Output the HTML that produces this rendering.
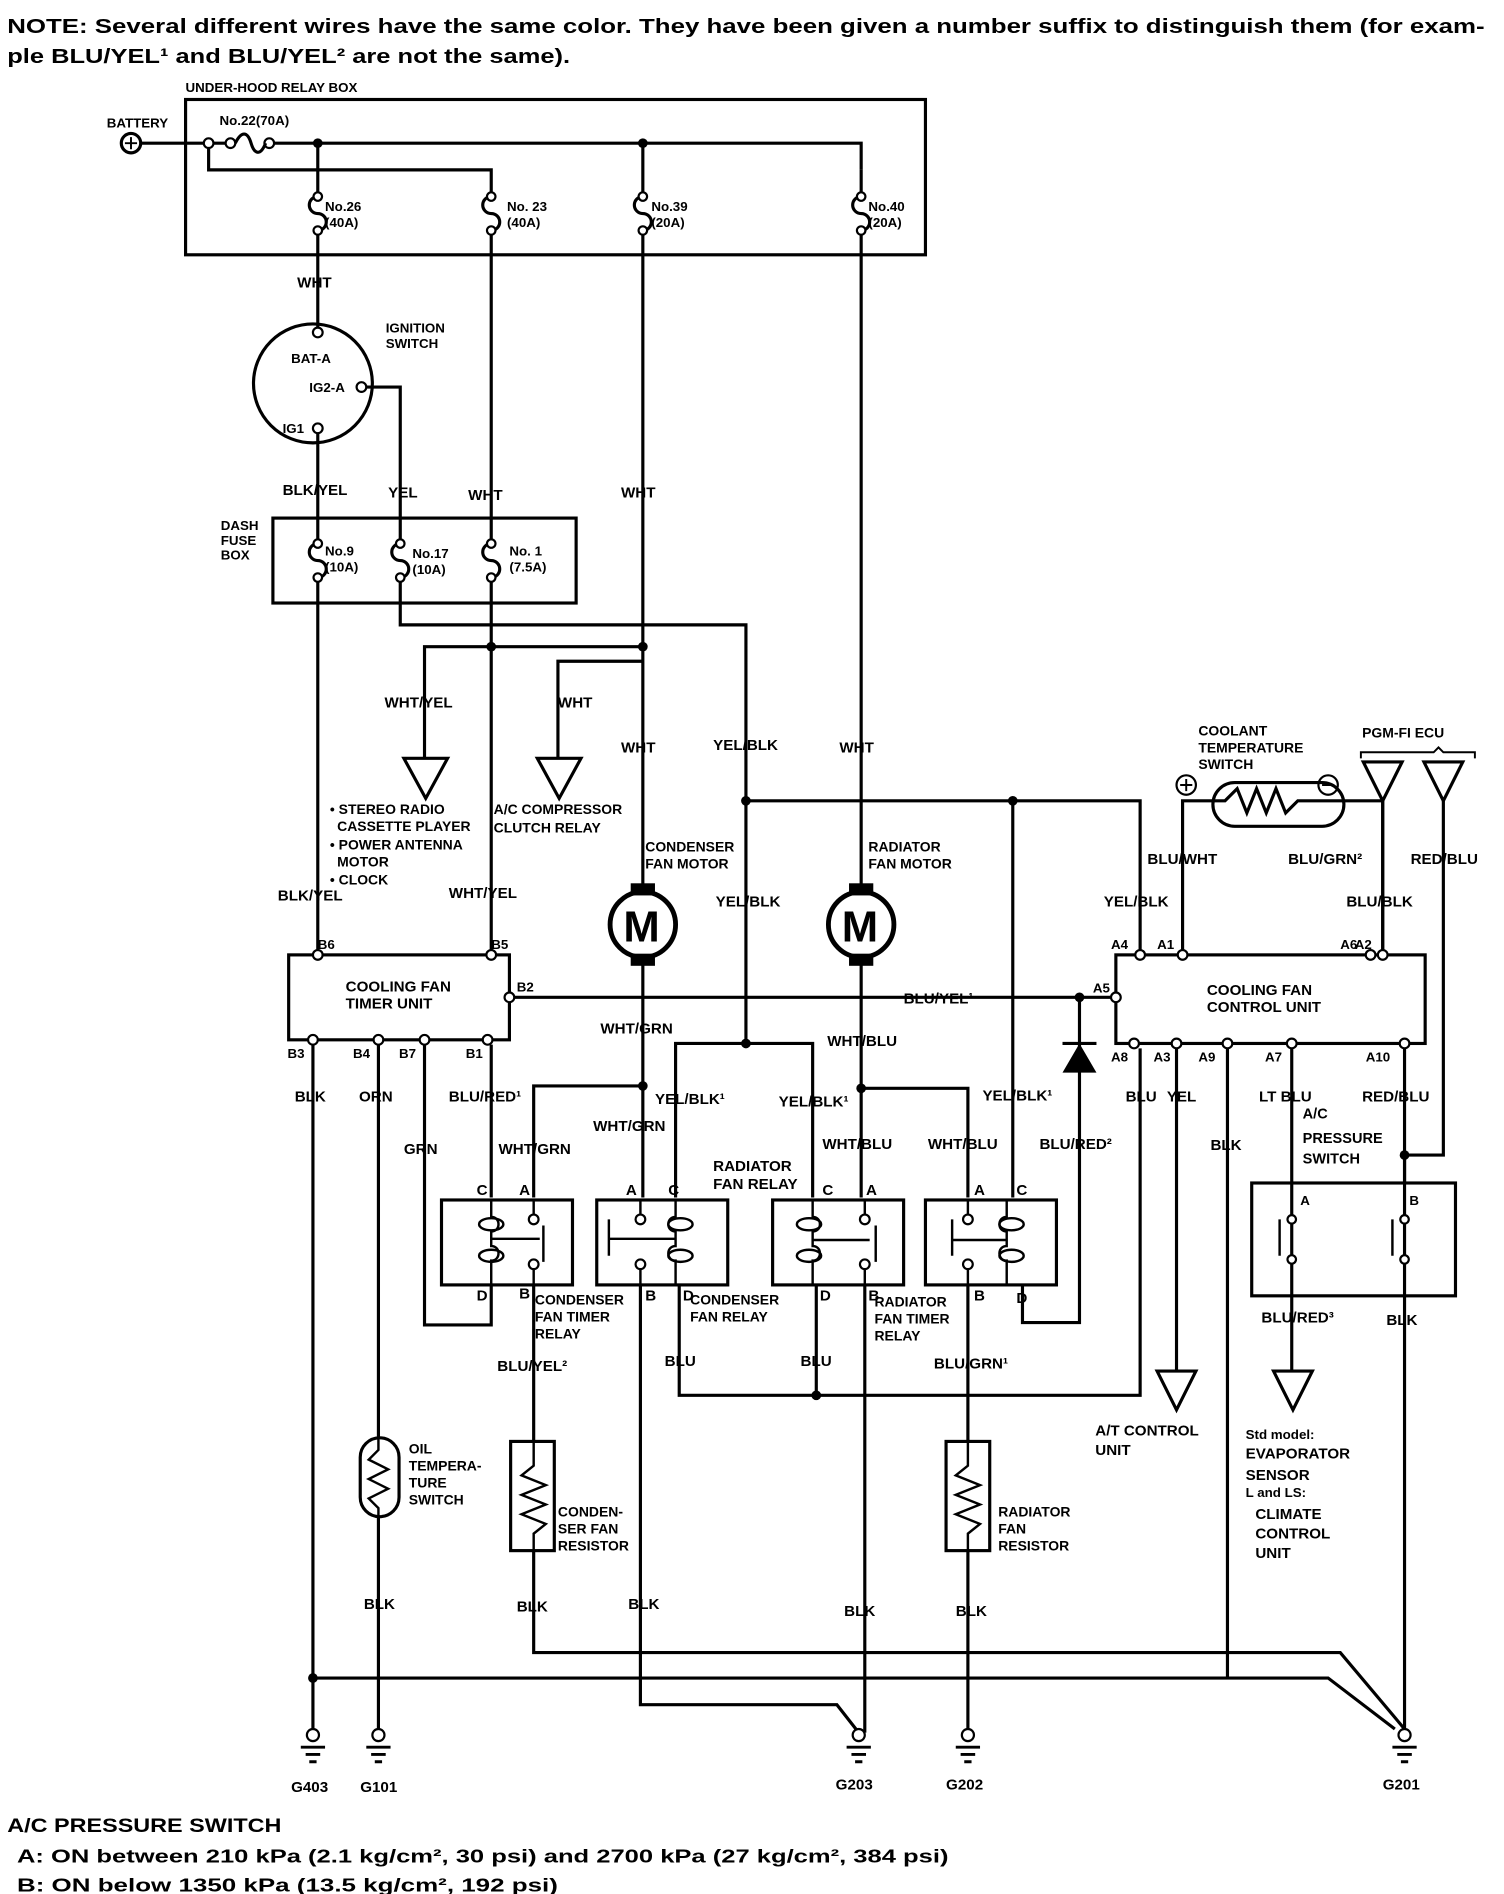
<!DOCTYPE html>
<html><head><meta charset="utf-8"><style>
html,body{margin:0;padding:0;background:#fff;}
svg{display:block}
text{font-family:"Liberation Sans",Arial,sans-serif;font-weight:bold;fill:#000;font-size:12.5px}
.w{fill:none;stroke:#000;stroke-width:2.6}
.t{fill:#fff;stroke:#000;stroke-width:1.8}
.d{fill:#000}
</style></head><body>
<svg width="1504" height="1894" viewBox="0 0 1240 1561" preserveAspectRatio="none" xmlns="http://www.w3.org/2000/svg">
<text x="6" y="27" style="font-size:17px" textLength="1218" lengthAdjust="spacingAndGlyphs">NOTE:  Several different wires have the same color. They have been given a number suffix to distinguish them (for exam-</text>
<text x="6" y="52" style="font-size:17px" textLength="464" lengthAdjust="spacingAndGlyphs">ple BLU/YEL¹ and BLU/YEL² are not the same).</text>

<text x="153" y="76" style="font-size:11px">UNDER-HOOD RELAY BOX</text>
<rect x="153" y="82" width="610" height="128" class="w"/>
<text x="88" y="105" style="font-size:11px">BATTERY</text>
<circle cx="108" cy="118" r="8" class="w"/><path d="M103 118h10M108 113v10" class="w" style="stroke-width:1.6"/>
<path d="M116 118H190M220 118H710v22M172 118v22H405v22M262 118v44M530 118v44" class="w"/>
<text x="181" y="103" style="font-size:11px">No.22(70A)</text>
<circle cx="172" cy="118" r="4" class="t"/><circle cx="190" cy="118" r="4" class="t"/><circle cx="222" cy="118" r="4" class="t"/>
<path d="M194 118c5-10 10-10 13 0s8 10 12 0" class="w"/>
<circle cx="262" cy="118" r="4" class="d"/><circle cx="530" cy="118" r="4" class="d"/>
<path d="M262 162a7 7 0 0 0 0 14a7 7 0 0 1 0 14M405 162a7 7 0 0 0 0 14a7 7 0 0 1 0 14M530 162a7 7 0 0 0 0 14a7 7 0 0 1 0 14M710 162a7 7 0 0 0 0 14a7 7 0 0 1 0 14" class="w"/>
<path d="M710 140v22" class="w"/>
<circle cx="262" cy="162" r="3.5" class="t"/><circle cx="262" cy="190" r="3.5" class="t"/>
<circle cx="405" cy="162" r="3.5" class="t"/><circle cx="405" cy="190" r="3.5" class="t"/>
<circle cx="530" cy="162" r="3.5" class="t"/><circle cx="530" cy="190" r="3.5" class="t"/>
<circle cx="710" cy="162" r="3.5" class="t"/><circle cx="710" cy="190" r="3.5" class="t"/>
<text x="268" y="174" style="font-size:11px">No.26</text><text x="268" y="187" style="font-size:11px">(40A)</text>
<text x="418" y="174" style="font-size:11px">No. 23</text><text x="418" y="187" style="font-size:11px">(40A)</text>
<text x="537" y="174" style="font-size:11px">No.39</text><text x="537" y="187" style="font-size:11px">(20A)</text>
<text x="716" y="174" style="font-size:11px">No.40</text><text x="716" y="187" style="font-size:11px">(20A)</text>

<path d="M262 194V270" class="w"/>
<text x="245" y="237">WHT</text>
<circle cx="258" cy="316" r="49" class="w"/>
<circle cx="262" cy="274" r="4" class="t"/>
<text x="240" y="299" style="font-size:11px">BAT-A</text>
<text x="255" y="323" style="font-size:11px">IG2-A</text>
<circle cx="298" cy="319" r="4" class="t"/>
<text x="233" y="357" style="font-size:11px">IG1</text>
<circle cx="262" cy="353" r="4" class="t"/>
<text x="318" y="274" style="font-size:11px">IGNITION</text><text x="318" y="287" style="font-size:11px">SWITCH</text>
<path d="M302 319H330V445M262 357V445M405 194V445M530 194V735M710 194V735" class="w"/>
<text x="233" y="408">BLK/YEL</text><text x="320" y="410">YEL</text><text x="386" y="412">WHT</text><text x="512" y="410">WHT</text>

<rect x="225" y="427" width="250" height="70" class="w"/>
<text x="182" y="437" style="font-size:11px">DASH</text><text x="182" y="449" style="font-size:11px">FUSE</text><text x="182" y="461" style="font-size:11px">BOX</text>
<path d="M262 448a7 7 0 0 0 0 14a7 7 0 0 1 0 14M330 448a7 7 0 0 0 0 14a7 7 0 0 1 0 14M405 448a7 7 0 0 0 0 14a7 7 0 0 1 0 14" class="w"/>
<circle cx="262" cy="448" r="3.5" class="t"/><circle cx="262" cy="476" r="3.5" class="t"/>
<circle cx="330" cy="448" r="3.5" class="t"/><circle cx="330" cy="476" r="3.5" class="t"/>
<circle cx="405" cy="448" r="3.5" class="t"/><circle cx="405" cy="476" r="3.5" class="t"/>
<text x="268" y="458" style="font-size:11px">No.9</text><text x="268" y="471" style="font-size:11px">(10A)</text>
<text x="340" y="460" style="font-size:11px">No.17</text><text x="340" y="473" style="font-size:11px">(10A)</text>
<text x="420" y="458" style="font-size:11px">No. 1</text><text x="420" y="471" style="font-size:11px">(7.5A)</text>

<path d="M262 480V785M330 480V515H615V860M405 480V785M350 625V533H530M460 625V545H530" class="w"/>
<circle cx="405" cy="533" r="4" class="d"/><circle cx="530" cy="533" r="4" class="d"/>
<path d="M333 625h36l-18 33z M443 625h36l-18 33z" class="w"/>
<text x="317" y="583">WHT/YEL</text><text x="460" y="583">WHT</text>
<text x="512" y="620">WHT</text><text x="588" y="618">YEL/BLK</text><text x="692" y="620">WHT</text>
<text x="272" y="671" style="font-size:11.5px">• STEREO RADIO</text>
<text x="278" y="685" style="font-size:11.5px">CASSETTE PLAYER</text>
<text x="272" y="700" style="font-size:11.5px">• POWER ANTENNA</text>
<text x="278" y="714" style="font-size:11.5px">MOTOR</text>
<text x="272" y="729" style="font-size:11.5px">• CLOCK</text>
<text x="407" y="671" style="font-size:11.5px">A/C COMPRESSOR</text>
<text x="407" y="686" style="font-size:11.5px">CLUTCH RELAY</text>
<text x="229" y="742">BLK/YEL</text><text x="370" y="740">WHT/YEL</text>

<path d="M615 660H940V785M835 660V987" class="w"/>
<circle cx="615" cy="660" r="4" class="d"/><circle cx="835" cy="660" r="4" class="d"/>

<text x="532" y="702" style="font-size:11.5px">CONDENSER</text><text x="532" y="716" style="font-size:11.5px">FAN MOTOR</text>
<text x="716" y="702" style="font-size:11.5px">RADIATOR</text><text x="716" y="716" style="font-size:11.5px">FAN MOTOR</text>
<rect x="520" y="728" width="20" height="10" class="d"/><rect x="520" y="786" width="20" height="10" class="d"/>
<circle cx="530" cy="762" r="27" class="w" style="stroke-width:4"/>
<text x="514" y="776" style="font-size:36px;font-weight:bold">M</text>
<rect x="700" y="728" width="20" height="10" class="d"/><rect x="700" y="786" width="20" height="10" class="d"/>
<circle cx="710" cy="762" r="27" class="w" style="stroke-width:4"/>
<text x="694" y="776" style="font-size:36px;font-weight:bold">M</text>
<text x="590" y="747">YEL/BLK</text>
<text x="910" y="747">YEL/BLK</text>

<rect x="238" y="787" width="182" height="70" class="w"/>
<text x="285" y="817">COOLING FAN</text><text x="285" y="831">TIMER UNIT</text>
<circle cx="262" cy="787" r="4" class="t"/><circle cx="405" cy="787" r="4" class="t"/><circle cx="420" cy="822" r="4" class="t"/>
<text x="262" y="782" style="font-size:11px">B6</text><text x="405" y="782" style="font-size:11px">B5</text><text x="426" y="817" style="font-size:11px">B2</text>
<circle cx="258" cy="857" r="4" class="t"/><circle cx="312" cy="857" r="4" class="t"/><circle cx="350" cy="857" r="4" class="t"/><circle cx="402" cy="857" r="4" class="t"/>
<text x="237" y="872" style="font-size:11px">B3</text><text x="291" y="872" style="font-size:11px">B4</text><text x="329" y="872" style="font-size:11px">B7</text><text x="384" y="872" style="font-size:11px">B1</text>

<rect x="920" y="787" width="255" height="73" class="w"/>
<text x="995" y="820">COOLING FAN</text><text x="995" y="834">CONTROL UNIT</text>
<circle cx="940" cy="787" r="4" class="t"/><circle cx="975" cy="787" r="4" class="t"/><circle cx="1130" cy="787" r="4" class="t"/><circle cx="1140" cy="787" r="4" class="t"/><circle cx="920" cy="822" r="4" class="t"/>
<text x="916" y="782" style="font-size:11px">A4</text><text x="954" y="782" style="font-size:11px">A1</text><text x="1105" y="782" style="font-size:11px">A6</text><text x="1117" y="782" style="font-size:11px">A2</text><text x="901" y="818" style="font-size:11px">A5</text>
<circle cx="935" cy="860" r="4" class="t"/><circle cx="970" cy="860" r="4" class="t"/><circle cx="1012" cy="860" r="4" class="t"/><circle cx="1065" cy="860" r="4" class="t"/><circle cx="1158" cy="860" r="4" class="t"/>
<text x="916" y="875" style="font-size:11px">A8</text><text x="951" y="875" style="font-size:11px">A3</text><text x="988" y="875" style="font-size:11px">A9</text><text x="1043" y="875" style="font-size:11px">A7</text><text x="1126" y="875" style="font-size:11px">A10</text>

<text x="988" y="606" style="font-size:11.5px">COOLANT</text><text x="988" y="620" style="font-size:11.5px">TEMPERATURE</text><text x="988" y="634" style="font-size:11.5px">SWITCH</text>
<rect x="1000" y="645" width="108" height="36" rx="18" class="w"/>
<path d="M975 783V660H1010l10-10 8 20 8-20 8 20 8-20 8 20 10-10H1140V783" class="w"/>
<circle cx="978" cy="647" r="8" class="w" style="stroke-width:1.8"/><path d="M973 647h10M978 642v10" class="w" style="stroke-width:1.6"/>
<circle cx="1095" cy="647" r="8" class="w" style="stroke-width:1.8"/><path d="M1090 647h10" class="w" style="stroke-width:1.6"/>
<text x="1123" y="608" style="font-size:11.5px">PGM-FI  ECU</text>
<path d="M1122 625v-5h60l4-4 4 4h26v5" class="w" style="stroke-width:1.6"/>
<path d="M1124 628h32l-16 32z M1174 628h32l-16 32z" class="w"/>
<path d="M1140 660V783M1190 660V952H1158" class="w"/>
<circle cx="1158" cy="952" r="4" class="d"/>
<text x="946" y="712">BLU/WHT</text><text x="1062" y="712">BLU/GRN²</text><text x="1163" y="712">RED/BLU</text><text x="1110" y="747">BLU/BLK</text>

<path d="M424 822H916M890 822V1090H843V1060" class="w"/>
<circle cx="890" cy="822" r="4" class="d"/>
<path d="M876 884h28l-14-24z" class="d"/><path d="M876 860h28" class="w"/>
<text x="745" y="827">BLU/YEL¹</text>

<path d="M530 790V895H440V987M530 895V987M615 860H557V987M615 860H670V987M710 790V897H798V987M710 897V987" class="w"/>
<circle cx="530" cy="895" r="4" class="d"/><circle cx="615" cy="860" r="4" class="d"/><circle cx="710" cy="897" r="4" class="d"/>
<path d="M405 861V987M350 861V1092H405V1060M312 861V1185M258 861V1430" class="w"/>
<text x="495" y="852">WHT/GRN</text><text x="682" y="862">WHT/BLU</text>
<text x="243" y="908">BLK</text><text x="296" y="908">ORN</text><text x="370" y="908">BLU/RED¹</text><text x="333" y="951">GRN</text><text x="411" y="951">WHT/GRN</text>
<text x="540" y="910">YEL/BLK¹</text><text x="489" y="932">WHT/GRN</text><text x="642" y="912">YEL/BLK¹</text><text x="678" y="947">WHT/BLU</text><text x="765" y="947">WHT/BLU</text><text x="810" y="907">YEL/BLK¹</text><text x="857" y="947">BLU/RED²</text>
<text x="588" y="965">RADIATOR</text><text x="588" y="980">FAN RELAY</text>

<rect x="364" y="989" width="108" height="70" class="w"/>
<rect x="492" y="989" width="108" height="70" class="w"/>
<rect x="637" y="989" width="108" height="70" class="w"/>
<rect x="763" y="989" width="108" height="70" class="w"/>
<g class="w" style="stroke-width:2">
<path d="M405 989v14c8 0 8 12 0 12v12c8 0 8 12 0 12v20M405 1021H445M440 989v12M440 1046v13M448 1010v30"/>
<ellipse cx="405" cy="1009" rx="10" ry="5"/><ellipse cx="405" cy="1035" rx="10" ry="5"/>
<path d="M557 989v14c-8 0-8 12 0 12v12c-8 0-8 12 0 12v20M557 1021H503M528 989v12M528 1046v13M502 1005v30"/>
<ellipse cx="561" cy="1009" rx="10" ry="5"/><ellipse cx="561" cy="1035" rx="10" ry="5"/>
<path d="M670 989v14c8 0 8 12 0 12v12c8 0 8 12 0 12v20M670 1022H717M713 989v12M713 1046v13M722 1010v30"/>
<ellipse cx="667" cy="1009" rx="10" ry="5"/><ellipse cx="667" cy="1035" rx="10" ry="5"/>
<path d="M830 989v14c-8 0-8 12 0 12v12c-8 0-8 12 0 12v20M830 1022H785M798 989v12M798 1046v13M785 1005v30"/>
<ellipse cx="834" cy="1009" rx="10" ry="5"/><ellipse cx="834" cy="1035" rx="10" ry="5"/>
</g>
<circle cx="440" cy="1005" r="4" class="t"/><circle cx="440" cy="1042" r="4" class="t"/>
<circle cx="528" cy="1005" r="4" class="t"/><circle cx="528" cy="1042" r="4" class="t"/>
<circle cx="713" cy="1005" r="4" class="t"/><circle cx="713" cy="1042" r="4" class="t"/>
<circle cx="798" cy="1005" r="4" class="t"/><circle cx="798" cy="1042" r="4" class="t"/>
<g style="font-size:11px">
<text x="393" y="985">C</text><text x="428" y="985">A</text><text x="393" y="1072">D</text><text x="428" y="1070">B</text>
<text x="516" y="985">A</text><text x="551" y="985">C</text><text x="532" y="1072">B</text><text x="563" y="1072">D</text>
<text x="678" y="985">C</text><text x="714" y="985">A</text><text x="676" y="1072">D</text><text x="716" y="1072">B</text>
<text x="803" y="985">A</text><text x="838" y="985">C</text><text x="803" y="1072">B</text><text x="838" y="1074">D</text>
</g>
<text x="441" y="1075" style="font-size:11.5px">CONDENSER</text><text x="441" y="1089" style="font-size:11.5px">FAN TIMER</text><text x="441" y="1103" style="font-size:11.5px">RELAY</text>
<text x="569" y="1075" style="font-size:11.5px">CONDENSER</text><text x="569" y="1089" style="font-size:11.5px">FAN RELAY</text>
<text x="721" y="1077" style="font-size:11.5px">RADIATOR</text><text x="721" y="1091" style="font-size:11.5px">FAN TIMER</text><text x="721" y="1105" style="font-size:11.5px">RELAY</text>

<path d="M440 1059V1188M528 1059V1405H690L708 1428M560 1059V1150H940V864M673 1059V1150M713 1059V1428M798 1059V1188M970 864V1130M1012 864V1383M1065 864V1040M1158 864V1040M1065 1040V1130M1158 1040V1425" class="w"/>
<circle cx="673" cy="1150" r="4" class="d"/>
<text x="410" y="1130">BLU/YEL²</text><text x="548" y="1126">BLU</text><text x="660" y="1126">BLU</text><text x="770" y="1128">BLU/GRN¹</text>
<text x="928" y="908">BLU</text><text x="962" y="908">YEL</text><text x="998" y="948">BLK</text><text x="1038" y="908">LT BLU</text><text x="1123" y="908">RED/BLU</text>
<text x="1074" y="922" style="font-size:12px">A/C</text><text x="1074" y="942" style="font-size:12px">PRESSURE</text><text x="1074" y="959" style="font-size:12px">SWITCH</text>

<path d="M1158 952V974" class="w"/>
<rect x="1032" y="975" width="168" height="93" class="w"/>
<path d="M1065 975v25M1158 975v25M1055 1005v30M1148 1005v30" class="w" style="stroke-width:2"/>
<circle cx="1065" cy="1005" r="3.5" class="t"/><circle cx="1065" cy="1038" r="3.5" class="t"/><circle cx="1158" cy="1005" r="3.5" class="t"/><circle cx="1158" cy="1038" r="3.5" class="t"/>
<text x="1072" y="993" style="font-size:11px">A</text><text x="1162" y="993" style="font-size:11px">B</text>
<text x="1040" y="1090">BLU/RED³</text><text x="1143" y="1092">BLK</text>
<path d="M954 1130h32l-16 32z M1050 1130h32l-16 32z" class="w"/>
<text x="903" y="1183">A/T CONTROL</text><text x="903" y="1199">UNIT</text>
<text x="1027" y="1186" style="font-size:11px">Std model:</text>
<text x="1027" y="1202">EVAPORATOR</text><text x="1027" y="1220">SENSOR</text>
<text x="1027" y="1234" style="font-size:11px">L and LS:</text>
<text x="1035" y="1252">CLIMATE</text><text x="1035" y="1268">CONTROL</text><text x="1035" y="1284">UNIT</text>

<rect x="297" y="1185" width="32" height="65" rx="16" class="w"/>
<path d="M312 1185v10l-8 8 16 8-16 8 16 8-16 8 8 8v10" class="w" style="stroke-width:2"/>
<path d="M312 1250V1430" class="w"/>
<text x="337" y="1198" style="font-size:11.5px">OIL</text><text x="337" y="1212" style="font-size:11.5px">TEMPERA-</text><text x="337" y="1226" style="font-size:11.5px">TURE</text><text x="337" y="1240" style="font-size:11.5px">SWITCH</text>
<rect x="421" y="1188" width="36" height="90" class="w"/>
<path d="M440 1188v20l-10 8 20 8-20 8 20 8-20 8 20 8-10 8v22" class="w" style="stroke-width:2"/>
<rect x="780" y="1188" width="36" height="90" class="w"/>
<path d="M798 1188v20l-10 8 20 8-20 8 20 8-20 8 20 8-10 8v22" class="w" style="stroke-width:2"/>
<text x="460" y="1250" style="font-size:11.5px">CONDEN-</text><text x="460" y="1264" style="font-size:11.5px">SER FAN</text><text x="460" y="1278" style="font-size:11.5px">RESISTOR</text>
<text x="823" y="1250" style="font-size:11.5px">RADIATOR</text><text x="823" y="1264" style="font-size:11.5px">FAN</text><text x="823" y="1278" style="font-size:11.5px">RESISTOR</text>
<path d="M440 1278V1362H1105L1158 1425M798 1278V1428M258 1383H1095L1150 1425" class="w"/>
<circle cx="258" cy="1383" r="4" class="d"/>
<text x="300" y="1326">BLK</text><text x="426" y="1328">BLK</text><text x="518" y="1326">BLK</text><text x="696" y="1332">BLK</text><text x="788" y="1332">BLK</text>

<g class="w" style="stroke-width:2.4">
<path d="M248 1440h20M252 1446h12M255 1452h6"/>
<path d="M302 1440h20M306 1446h12M309 1452h6"/>
<path d="M698 1440h20M702 1446h12M705 1452h6"/>
<path d="M788 1440h20M792 1446h12M795 1452h6"/>
<path d="M1148 1440h20M1152 1446h12M1155 1452h6"/>
</g>
<circle cx="258" cy="1430" r="5" class="t"/><circle cx="312" cy="1430" r="5" class="t"/><circle cx="708" cy="1430" r="5" class="t"/><circle cx="798" cy="1430" r="5" class="t"/><circle cx="1158" cy="1430" r="5" class="t"/>
<text x="240" y="1477">G403</text><text x="297" y="1477">G101</text><text x="689" y="1475">G203</text><text x="780" y="1475">G202</text><text x="1140" y="1475">G201</text>

<text x="6" y="1510" style="font-size:16px" textLength="226" lengthAdjust="spacingAndGlyphs">A/C PRESSURE SWITCH</text>
<text x="14" y="1535" style="font-size:15px" textLength="768" lengthAdjust="spacingAndGlyphs">A: ON between 210 kPa (2.1 kg/cm², 30 psi) and 2700 kPa (27 kg/cm², 384 psi)</text>
<text x="14" y="1559" style="font-size:15px" textLength="446" lengthAdjust="spacingAndGlyphs">B: ON below 1350 kPa (13.5 kg/cm², 192 psi)</text>
</svg>
</body></html>
